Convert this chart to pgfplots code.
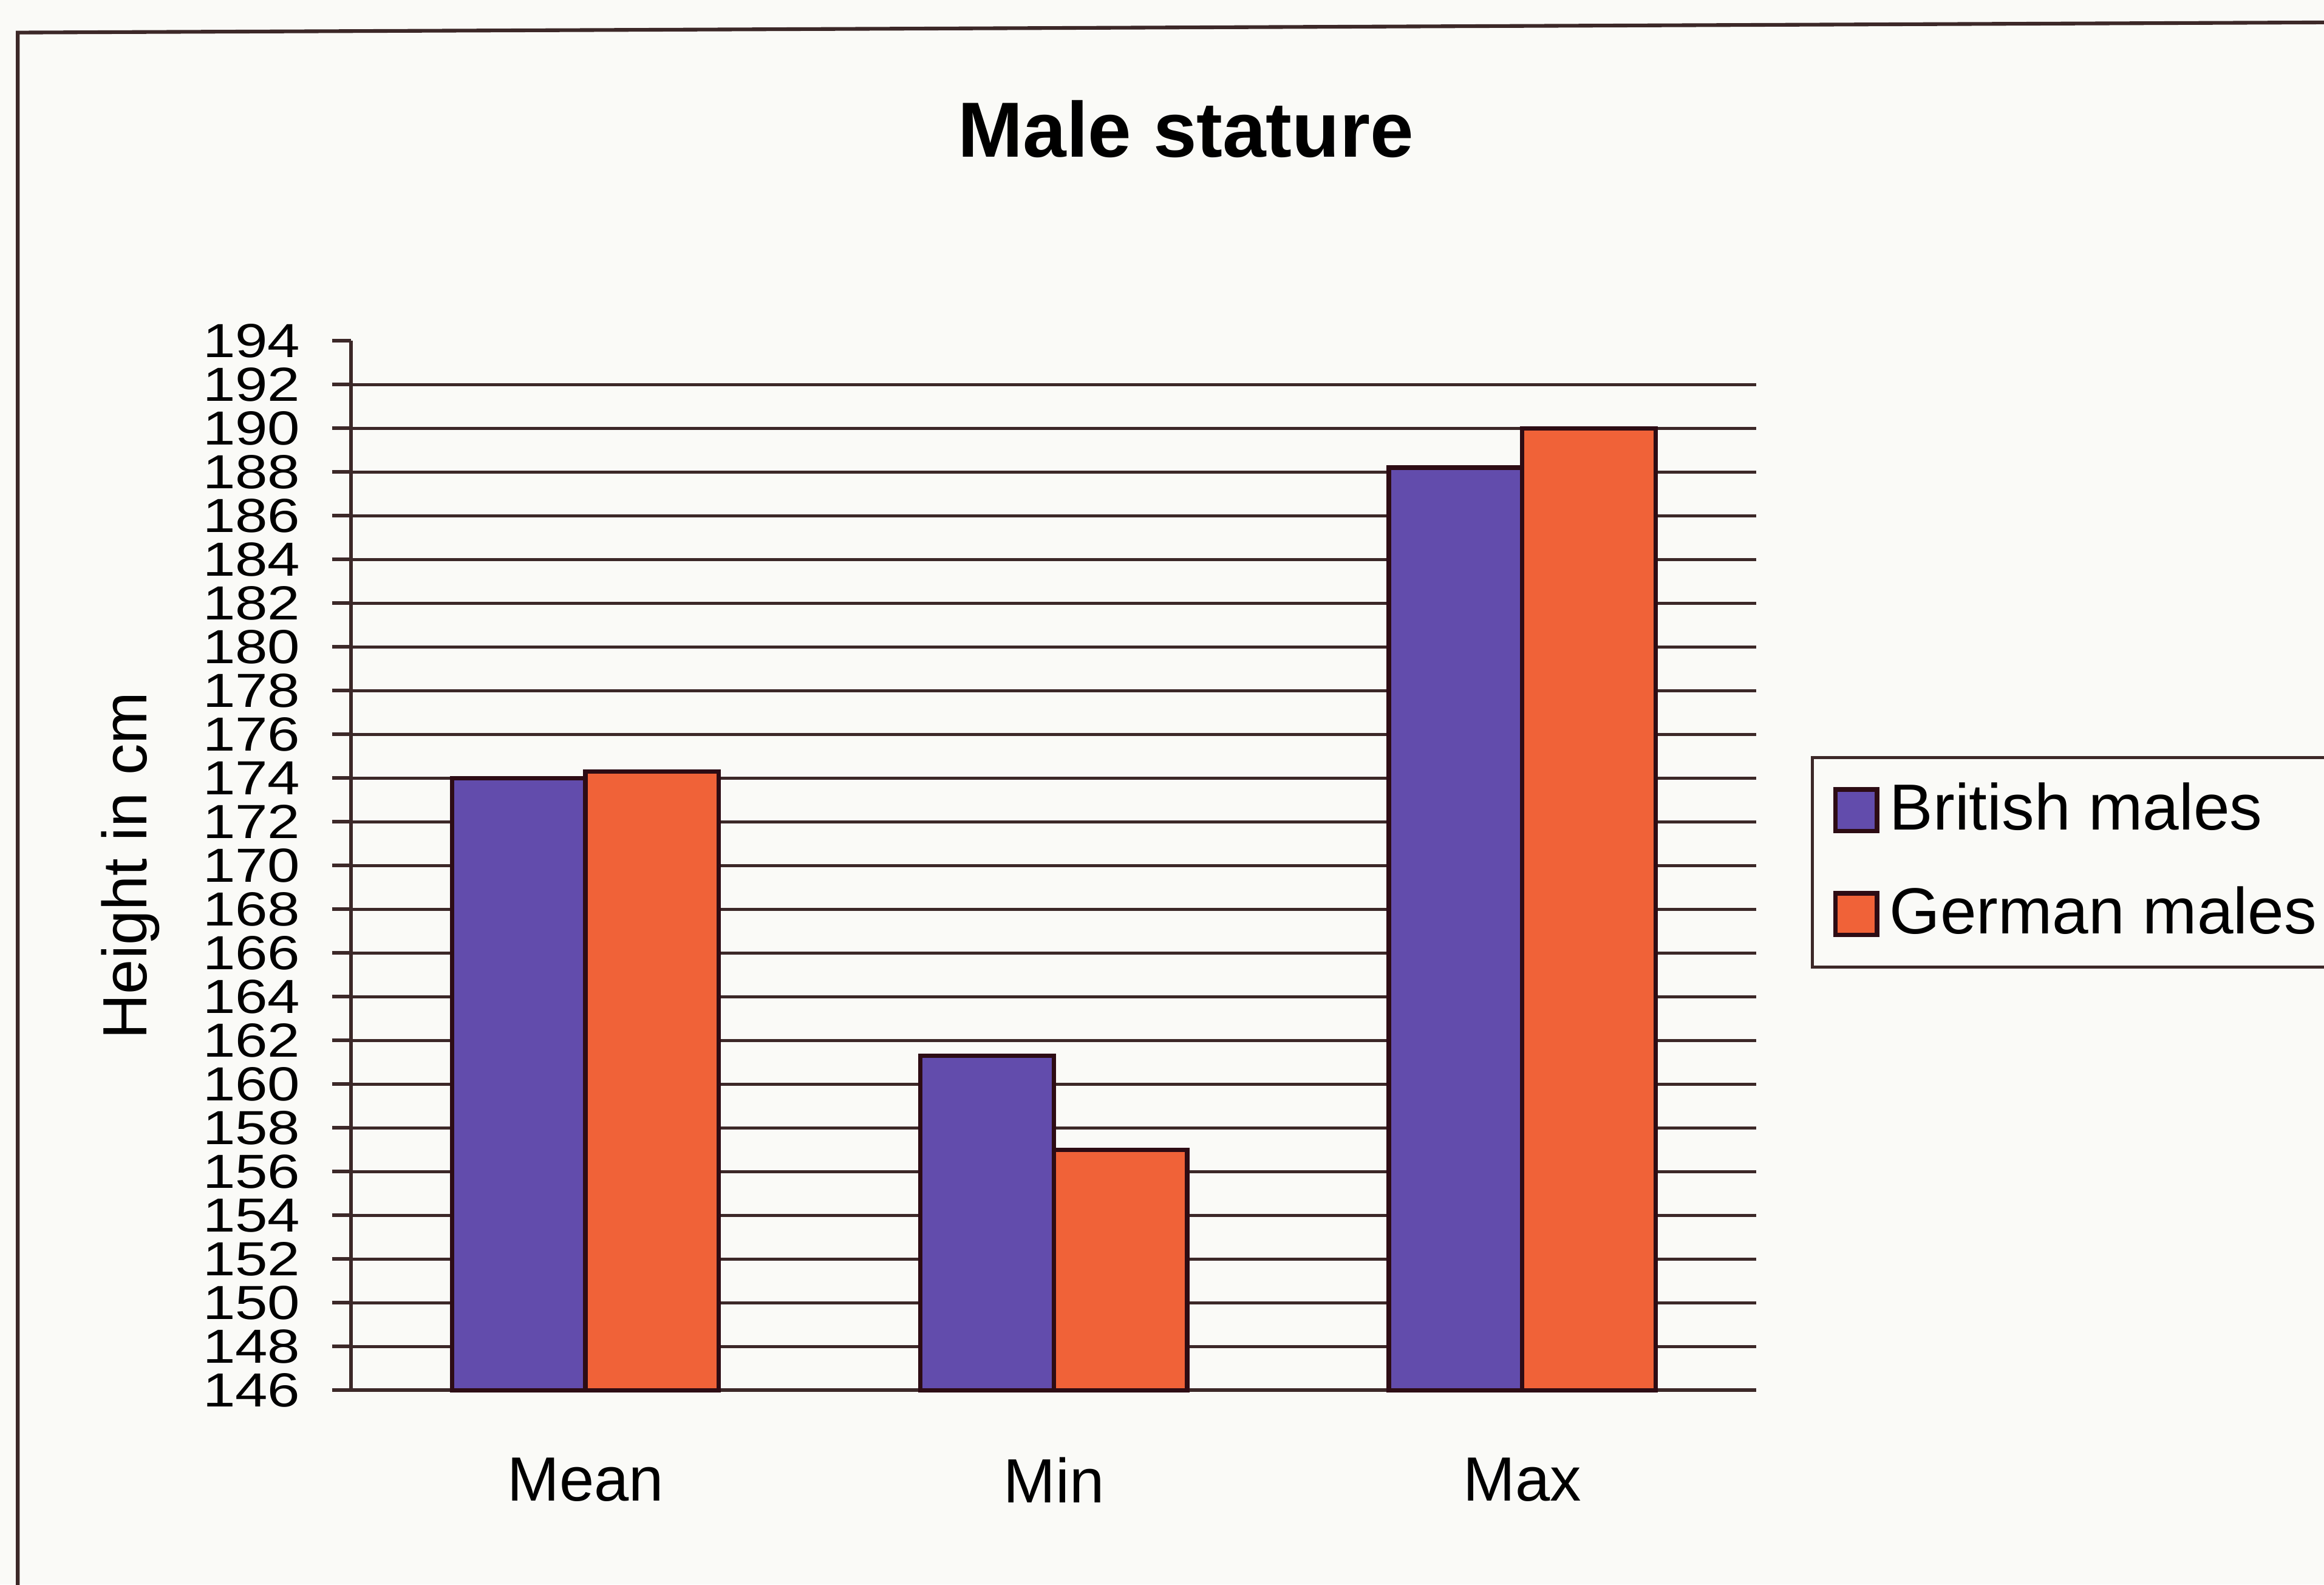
\documentclass[border=0pt]{standalone}
\usepackage{pgfplots}
\pgfplotsset{compat=1.18}
\usepackage{fontspec}
\setmainfont{Liberation Sans}
\definecolor{bg}{RGB}{250,250,247}
\definecolor{brit}{RGB}{98,76,172}
\definecolor{germ}{RGB}{240,98,56}
\definecolor{edge}{RGB}{45,12,20}
\definecolor{gridc}{RGB}{60,40,40}
\begin{document}
\begin{tikzpicture}
\useasboundingbox[fill=bg] (0,0) rectangle (156.8mm,106.9mm);
\draw[gridc, line width=0.25mm] (1.2mm,-1mm) -- (1.2mm,104.7mm) -- (160mm,105.4mm);
\begin{axis}[
  at={(23.7mm,13.1mm)}, anchor=south west,
  scale only axis, width=94.8mm, height=70.8mm,
  ybar=0pt, bar width=9mm,
  xmin=-0.5, xmax=2.5, ymin=146, ymax=194,
  axis x line*=bottom, axis y line*=left,
  axis line style={gridc, line width=0.25mm},
  xtick={0,1,2}, xticklabels={Mean,Min,Max},
  major x tick style={draw=none},
  extra x ticks={-0.5,0.5,1.5,2.5}, extra x tick labels={},
  extra x tick style={major tick length=1.2mm, tick align=outside, tick style={gridc, line width=0.25mm}},
  xticklabel style={font=\fontsize{12}{14}\selectfont, yshift=-2.0mm},
  ytick={146,148,...,194},
  tick align=outside, major tick length=1.3mm,
  y tick style={gridc, line width=0.25mm},
  yticklabel style={font=\fontsize{11.2}{12}\selectfont, yscale=0.82, xshift=-0.9mm},
  /pgf/number format/assume math mode=true,
  extra y ticks={148,150,...,192}, extra y tick labels={},
  extra y tick style={grid=major, major grid style={gridc, line width=0.2mm}, major tick length=0pt},
  ylabel={Height in cm},
  ylabel style={at={(axis description cs:-0.157,0.5)}, anchor=center, font=\fontsize{12}{14}\selectfont},
  title={\textbf{Male stature}},
  title style={at={(axis description cs:0.594,1.172)}, anchor=center, font=\fontsize{15}{18}\selectfont},
  legend style={at={(1.039,0.6045)}, anchor=north west, draw=gridc, line width=0.2mm, fill=bg,
    font=\fontsize{12.5}{15}\selectfont, row sep=1.9mm, inner xsep=1.4mm, inner ysep=1.0mm,
    cells={anchor=west}},
  legend image code/.code={\draw[#1, line width=0.3mm] (0cm,-0.14cm) rectangle (0.28cm,0.14cm);},
  legend cell align=left,
  enlargelimits=false,
  clip=false,
]
\addplot[fill=brit, draw=edge, line width=0.3mm] coordinates {(0,174.0) (1,161.3) (2,188.2)};
\addplot[fill=germ, draw=edge, line width=0.3mm] coordinates {(0,174.3) (1,157.0) (2,190.0)};
\legend{British males, German males}
\end{axis}
\end{tikzpicture}
\end{document}
